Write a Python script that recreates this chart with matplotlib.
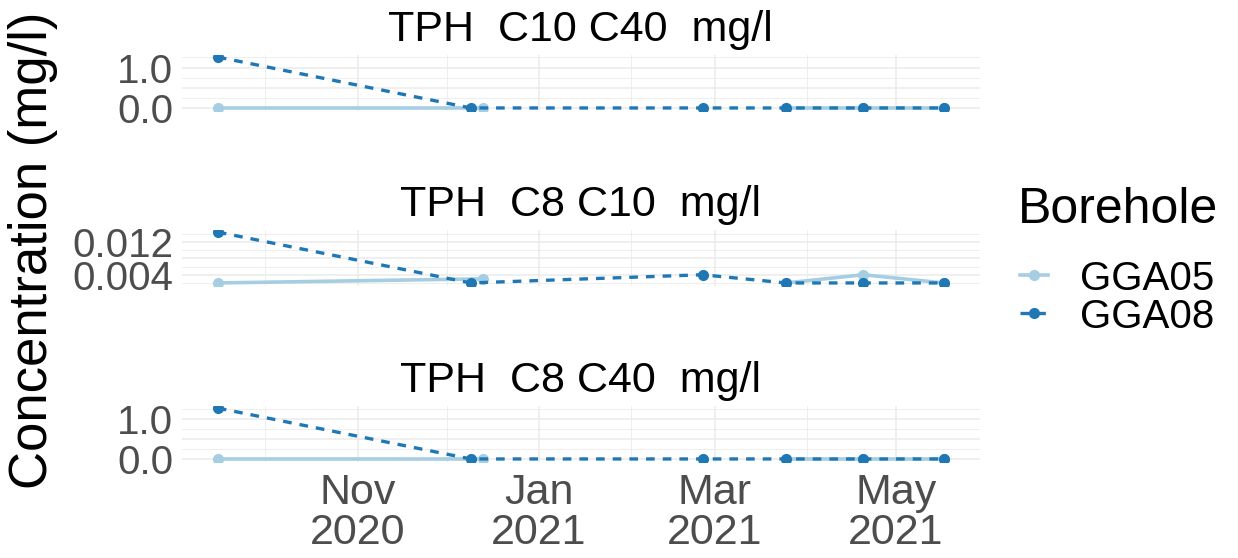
import numpy as np
import pandas as pd
import matplotlib
matplotlib.use('Agg')
import matplotlib.pyplot as plt
from matplotlib.lines import Line2D

plt.rcParams['font.family'] = ['Liberation Sans', 'DejaVu Sans']

# ── Data ──────────────────────────────────────────────────────────────────────
params = ['TPH  C10 C40  mg/l', 'TPH  C8 C10  mg/l', 'TPH  C8 C40  mg/l']

dates_gga05 = pd.to_datetime(['2020-09-15', '2020-12-13', '2021-02-25',
                              '2021-03-25', '2021-04-20', '2021-05-17'])
dates_gga08 = pd.to_datetime(['2020-09-15', '2020-12-09', '2021-02-25',
                              '2021-03-25', '2021-04-20', '2021-05-17'])

# GGA05 has no value on 2021-02-25 (line is broken there)
gga05 = {
    'TPH  C10 C40  mg/l': [0.0, 0.0, np.nan, 0.0, 0.0, 0.0],
    'TPH  C8 C10  mg/l':  [0.002, 0.003, np.nan, 0.002, 0.004, 0.002],
    'TPH  C8 C40  mg/l':  [0.0, 0.0, np.nan, 0.0, 0.0, 0.0],
}
gga08 = {
    'TPH  C10 C40  mg/l': [1.26, 0.0, 0.0, 0.0, 0.0, 0.0],
    'TPH  C8 C10  mg/l':  [0.0144, 0.002, 0.004, 0.002, 0.002, 0.002],
    'TPH  C8 C40  mg/l':  [1.27, 0.0, 0.0, 0.0, 0.0, 0.0],
}

y_major = {
    'TPH  C10 C40  mg/l': [0.0, 0.5, 1.0],
    'TPH  C8 C10  mg/l':  [0.004, 0.008, 0.012],
    'TPH  C8 C40  mg/l':  [0.0, 0.5, 1.0],
}
y_labels = {
    'TPH  C10 C40  mg/l': ['0.0', '', '1.0'],
    'TPH  C8 C10  mg/l':  ['0.004', '', '0.012'],
    'TPH  C8 C40  mg/l':  ['0.0', '', '1.0'],
}
y_minor = {
    'TPH  C10 C40  mg/l': [0.25, 0.75, 1.25],
    'TPH  C8 C10  mg/l':  [0.002, 0.006, 0.010, 0.014],
    'TPH  C8 C40  mg/l':  [0.25, 0.75, 1.25],
}

x_major = pd.to_datetime(['2020-11-01', '2021-01-01', '2021-03-01', '2021-05-01'])
x_labels = ['Nov\n2020', 'Jan\n2021', 'Mar\n2021', 'May\n2021']
x_minor = pd.to_datetime(['2020-10-01', '2020-12-01', '2021-02-01', '2021-04-01'])

boreholes = ['GGA05', 'GGA08']

# ── Style ─────────────────────────────────────────────────────────────────────
C05 = '#a6cee3'
C08 = '#1f78b4'
GRID = '#ebebeb'
TICK_COL = '#4d4d4d'

W, H = 1238, 558
fig = plt.figure(figsize=(W / 100, H / 100), dpi=100)

# panel boxes in pixels (left, right, top, bottom)
PX_L, PX_R = 181.5, 980
panel_tb = [(54.5, 110.5), (229.5, 285.5), (405.5, 461.5)]

all_dates = dates_gga05.union(dates_gga08)
span = all_dates.max() - all_dates.min()
xlim = (all_dates.min() - span * 0.05, all_dates.max() + span * 0.05)

for i, p in enumerate(params):
    top, bot = panel_tb[i]
    ax = fig.add_axes([PX_L / W, 1 - bot / H, (PX_R - PX_L) / W, (bot - top) / H])

    vals = np.concatenate([np.array(gga05[p], float), np.array(gga08[p], float)])
    lo, hi = np.nanmin(vals), np.nanmax(vals)
    pad = (hi - lo) * 0.05
    ax.set_ylim(lo - pad, hi + pad)
    ax.set_xlim(xlim)

    ax.plot(dates_gga05, gga05[p], color=C05, lw=2.6, marker='o', ms=7,
            solid_capstyle='butt', zorder=3)
    ax.plot(dates_gga08, gga08[p], color=C08, lw=2.4, ls=(0, (2.6, 2.4)),
            marker='o', ms=7, zorder=4)

    ax.set_yticks(y_major[p])
    ax.set_yticklabels(y_labels[p])
    ax.set_yticks(y_minor[p], minor=True)
    ax.set_xticks(x_major)
    ax.set_xticks(x_minor, minor=True)
    if i == len(params) - 1:
        ax.set_xticklabels(x_labels, linespacing=1.0)
    else:
        ax.set_xticklabels([])

    ax.grid(True, which='major', color=GRID, lw=1.1, zorder=0)
    ax.grid(True, which='minor', color=GRID, lw=0.6, zorder=0)
    ax.set_axisbelow(True)
    ax.tick_params(which='both', length=0)
    ax.tick_params(axis='y', labelsize=29, labelcolor=TICK_COL, pad=6)
    ax.tick_params(axis='x', labelsize=31, labelcolor=TICK_COL, pad=8)
    for s in ax.spines.values():
        s.set_visible(False)

    ax.annotate(p, xy=(0.5, 1), xycoords='axes fraction', xytext=(0, 10),
                textcoords='offset points', ha='center', va='baseline',
                fontsize=31, color='black')

fig.text(33 / W, 1 - 250 / H, 'Concentration (mg/l)', rotation=90,
         ha='center', va='center', fontsize=38, color='black')

# legend: title drawn separately so the gap matches the reference
fig.text(1018 / W, 1 - 223 / H, 'Borehole', ha='left', va='baseline',
         fontsize=36, color='black')
handles = [
    Line2D([], [], color=C05, lw=2.6, marker='o', ms=7),
    Line2D([], [], color=C08, lw=2.4, ls=(0, (2.6, 2.4)), marker='o', ms=7),
]
fig.legend(handles, boreholes, loc='center left',
           bbox_to_anchor=(1020 / W, 1 - 297.5 / H), frameon=False,
           fontsize=29, handlelength=0.7, handletextpad=0.8,
           labelspacing=0.0, borderpad=0, borderaxespad=0)

fig.savefig('out.png', dpi=100)
